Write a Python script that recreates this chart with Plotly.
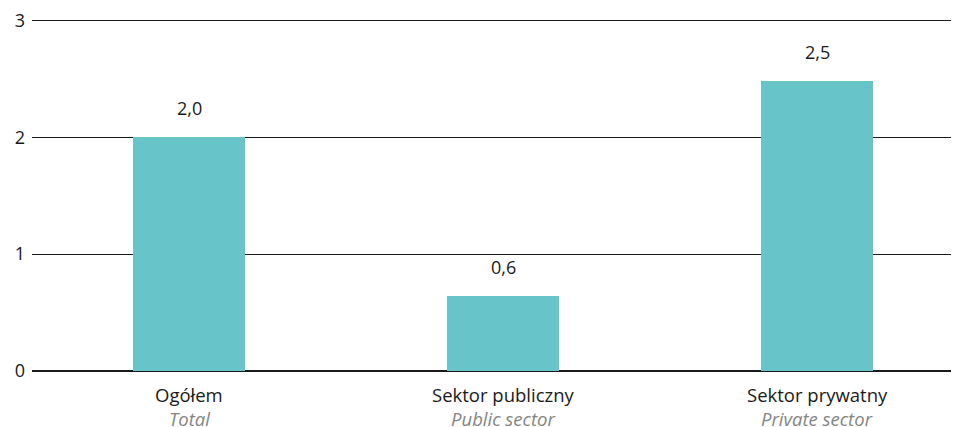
import plotly.graph_objects as go

categories_pl = ["Ogółem", "Sektor publiczny", "Sektor prywatny"]
categories_en = ["Total", "Public sector", "Private sector"]
values = [2.0, 0.64, 2.48]
value_labels = ["2,0", "0,6", "2,5"]
y_ticks = [0, 1, 2, 3]

FONT = "Open Sans"
BAR_COLOR = "#67C4C9"
TEXT = "#1a1a1a"

x = list(range(len(categories_pl)))

fig = go.Figure()
fig.add_trace(go.Bar(
    x=x, y=values, width=0.357, marker=dict(color=BAR_COLOR, line=dict(width=0)),
    hoverinfo="skip", showlegend=False,
))

annotations = []
for xi, v, lab in zip(x, values, value_labels):
    annotations.append(dict(x=xi, y=v, xref="x", yref="y", text=lab, showarrow=False,
                            yshift=29, font=dict(family=FONT, size=18, color=TEXT)))
for xi, pl, en in zip(x, categories_pl, categories_en):
    annotations.append(dict(x=xi, y=0, xref="x", yref="y", text=pl, showarrow=False,
                            yshift=-23, font=dict(family=FONT, size=18.5, color=TEXT)))
    annotations.append(dict(x=xi, y=0, xref="x", yref="y", text="<i>" + en + "</i>", showarrow=False,
                            yshift=-47, font=dict(family=FONT, size=18.5, color="#858585")))

fig.update_layout(
    width=951, height=419,
    margin=dict(l=24, r=0, t=8, b=56),
    plot_bgcolor="white", paper_bgcolor="white",
    bargap=0,
    annotations=annotations,
    xaxis=dict(range=[-0.5, 2.452], showticklabels=False, showgrid=False, zeroline=False,
               showline=False, ticks=""),
    yaxis=dict(range=[0, 3.02], tickvals=y_ticks, ticktext=[str(t) for t in y_ticks],
               showgrid=True, gridcolor=TEXT, gridwidth=1,
               zeroline=True, zerolinecolor=TEXT, zerolinewidth=1.5,
               tickfont=dict(family=FONT, size=18, color=TEXT),
               ticklabeloverflow="allow",
               ticks="", ticklabelstandoff=6),
)

fig.write_html("out.html")
